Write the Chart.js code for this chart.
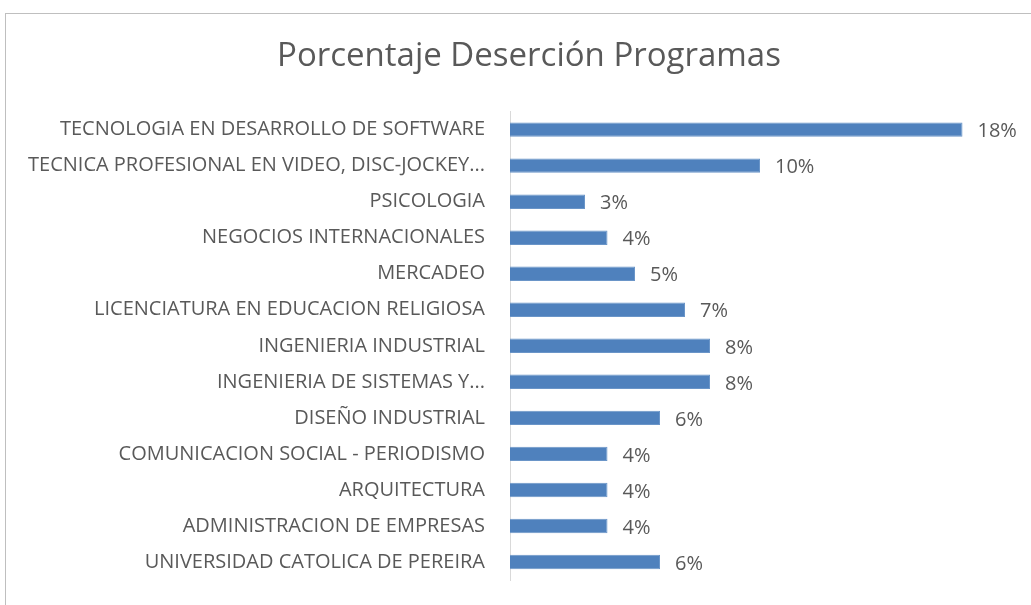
<!DOCTYPE html>
<html>
<head>
<meta charset="utf-8">
<script src="https://cdn.jsdelivr.net/npm/chart.js@4.4.0/dist/chart.umd.min.js"></script>
<style>
  body { margin: 0; background: #fff; }
  #wrap { position: relative; width: 1031px; height: 605px; overflow: hidden; }
  #frame { position: absolute; left: 5px; top: 13px; width: 1100px; height: 700px; border: 1px solid #bfbfbf; }
  canvas { position: absolute; left: 0; top: 0; }
</style>
</head>
<body>
<div id="wrap">
  <div id="frame"></div>
  <canvas id="chart" width="1058" height="617"></canvas>
</div>
<script>
const programs = [
  'TECNOLOGIA EN DESARROLLO DE SOFTWARE',
  'TECNICA PROFESIONAL EN VIDEO, DISC-JOCKEY...',
  'PSICOLOGIA',
  'NEGOCIOS INTERNACIONALES',
  'MERCADEO',
  'LICENCIATURA EN EDUCACION RELIGIOSA',
  'INGENIERIA INDUSTRIAL',
  'INGENIERIA DE SISTEMAS Y...',
  'DISEÑO INDUSTRIAL',
  'COMUNICACION SOCIAL - PERIODISMO',
  'ARQUITECTURA',
  'ADMINISTRACION DE EMPRESAS',
  'UNIVERSIDAD CATOLICA DE PEREIRA'
];
const desercion = [18.1, 10.0, 3.0, 3.9, 5.0, 7.0, 8.0, 8.0, 6.0, 3.9, 3.9, 3.9, 6.0];

const fontFamily = '"Open Sans", Lato, sans-serif';
const textColor = '#595959';

// etiquetas de porcentaje al final de cada barra
const valueLabels = {
  id: 'valueLabels',
  afterDatasetsDraw(chart) {
    const ctx = chart.ctx;
    const meta = chart.getDatasetMeta(0);
    ctx.save();
    ctx.font = '20px ' + fontFamily;
    ctx.fillStyle = textColor;
    ctx.textAlign = 'left';
    ctx.textBaseline = 'middle';
    meta.data.forEach((bar, i) => {
      ctx.fillText(Math.round(desercion[i]) + '%', bar.x + 15, bar.y + 2);
    });
    ctx.restore();
  }
};

new Chart(document.getElementById('chart'), {
  type: 'bar',
  data: {
    labels: programs,
    datasets: [{
      data: desercion,
      backgroundColor: '#4f81bd',
      borderColor: '#6a95c8',
      borderWidth: 1,
      categoryPercentage: 1,
      barPercentage: 0.4
    }]
  },
  options: {
    indexAxis: 'y',
    responsive: false,
    animation: false,
    layout: { padding: { left: 0, right: 0, top: 0, bottom: 15 } },
    plugins: {
      legend: { display: false },
      tooltip: { enabled: false },
      title: {
        display: true,
        text: 'Porcentaje Deserción Programas',
        color: textColor,
        font: { family: fontFamily, size: 33, weight: 'normal' },
        padding: { top: 37, bottom: 35 }
      }
    },
    scales: {
      x: { display: false, min: 0, max: 21.92 },
      y: {
        afterFit(scale) { scale.width = 510; },
        grid: { display: false, drawTicks: false },
        border: { display: true, color: '#d9d9d9', width: 1 },
        ticks: {
          color: textColor,
          padding: 25,
          autoSkip: false,
          font: { family: fontFamily, size: 20 }
        }
      }
    }
  },
  plugins: [valueLabels]
});
</script>
</body>
</html>
